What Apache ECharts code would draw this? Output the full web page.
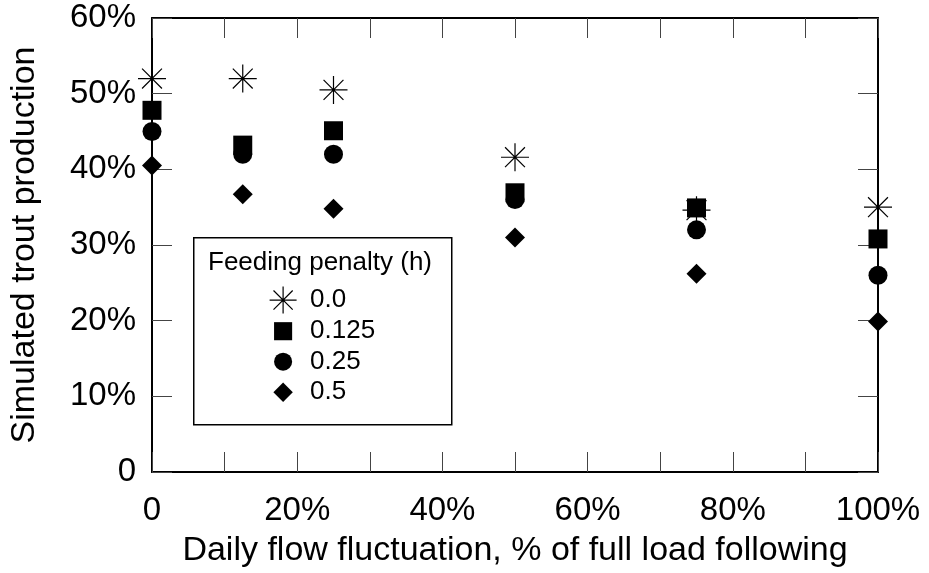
<!DOCTYPE html>
<html><head><meta charset="utf-8">
<script src="https://cdn.jsdelivr.net/npm/echarts@6/dist/echarts.min.js"></script>
<style>html,body{margin:0;padding:0;background:#fff}#c{width:929px;height:573px}</style>
</head><body><div id="c"></div>
<script>
// ---- data ----
const xValues = [0, 12.5, 25, 50, 75, 100];
const penalty000 = [52.0, 52.0, 50.5, 41.6, 34.6, 35.0];
const penalty125 = [47.8, 43.2, 45.1, 36.9, 34.9, 30.8];
const penalty250 = [45.0, 42.0, 42.0, 36.0, 32.0, 26.0];
const penalty500 = [40.5, 36.7, 34.8, 31.0, 26.2, 19.9];
const seriesNames = ['0.0', '0.125', '0.25', '0.5'];
const xTickValues = [0, 20, 40, 60, 80, 100];
const xTickLabels = ['0', '20%', '40%', '60%', '80%', '100%'];
const yTickValues = [0, 10, 20, 30, 40, 50, 60];
const yTickLabels = ['0', '10%', '20%', '30%', '40%', '50%', '60%'];
const legendTitle = 'Feeding penalty (h)';
const xTitle = 'Daily flow fluctuation, % of full load following';
const yTitle = 'Simulated trout production';

const FONT = "'Liberation Sans', Arial, Helvetica, sans-serif";
const pair = (ys) => xValues.map((x, i) => [x, ys[i]]);

const starPath = 'path://M0,-1L0,1M-1,0L1,0M-0.71,-0.71L0.71,0.71M-0.71,0.71L0.71,-0.71';
const legSquare = 'path://M-1,-1M1,1M-0.67,-0.67L0.67,-0.67L0.67,0.67L-0.67,0.67Z';
const legCircle = 'path://M-1,-1M1,1M0.67,0A0.67,0.67,0,1,1,-0.67,0A0.67,0.67,0,1,1,0.67,0Z';
const legDiamond = 'path://M-1,-1M1,1M0,-0.72L0.72,0L0,0.72L-0.72,0Z';

const starStyle = { color: 'rgba(0,0,0,0)', borderColor: '#000', borderWidth: 1.2, opacity: 1 };
const solidStyle = { color: '#000', borderWidth: 0, opacity: 1 };

const tickStyle = { inside: true, length: 20, lineStyle: { color: '#444', width: 1 } };
const lineStyle = { show: true, onZero: false, lineStyle: { color: '#000', width: 2 } };

const chart = echarts.init(document.getElementById('c'), null, { renderer: 'canvas' });
chart.setOption({
  animation: false,
  backgroundColor: '#fff',
  textStyle: { fontFamily: FONT },
  grid: { left: 151, right: 51, top: 18, bottom: 101, containLabel: false },
  title: {
    text: legendTitle, left: 208, top: 250, padding: 0,
    textStyle: { fontFamily: FONT, fontSize: 26, fontWeight: 'normal', color: '#000' }
  },
  graphic: [{
    type: 'rect', left: 193, top: 237, z: 1,
    shape: { width: 258, height: 187 },
    style: { fill: '#fff', stroke: '#000', lineWidth: 1.5 }
  }],
  legend: {
    orient: 'vertical', left: 269, top: 286, z: 10,
    itemWidth: 44, itemHeight: 27, itemGap: 3.5, padding: 0,
    textStyle: { fontFamily: FONT, fontSize: 26, color: '#000' },
    data: [
      { name: seriesNames[0], icon: starPath, itemStyle: starStyle },
      { name: seriesNames[1], icon: legSquare, itemStyle: solidStyle },
      { name: seriesNames[2], icon: legCircle, itemStyle: solidStyle },
      { name: seriesNames[3], icon: legDiamond, itemStyle: solidStyle }
    ]
  },
  xAxis: [{
    type: 'value', position: 'bottom', min: 0, max: 100, interval: 10,
    axisLine: lineStyle, axisTick: tickStyle, splitLine: { show: false },
    axisLabel: {
      margin: 22, fontSize: 33, color: '#000', fontFamily: FONT,
      formatter: (v) => { const i = xTickValues.indexOf(v); return i >= 0 ? xTickLabels[i] : ''; }
    },
    name: xTitle, nameLocation: 'middle', nameGap: 62,
    nameTextStyle: { fontSize: 34, color: '#000', fontFamily: FONT }
  }, {
    type: 'value', position: 'top', min: 0, max: 100, interval: 10,
    axisLine: lineStyle, axisTick: tickStyle, splitLine: { show: false },
    axisLabel: { show: false }
  }],
  yAxis: [{
    type: 'value', position: 'left', min: 0, max: 60, interval: 10,
    axisLine: lineStyle, axisTick: tickStyle, splitLine: { show: false },
    axisLabel: {
      margin: 16, fontSize: 33, color: '#000', fontFamily: FONT,
      formatter: (v) => { const i = yTickValues.indexOf(v); return i >= 0 ? yTickLabels[i] : ''; }
    },
    name: yTitle, nameLocation: 'middle', nameGap: 110,
    nameTextStyle: { fontSize: 34, color: '#000', fontFamily: FONT }
  }, {
    type: 'value', position: 'right', min: 0, max: 60, interval: 10,
    axisLine: lineStyle, axisTick: tickStyle, splitLine: { show: false },
    axisLabel: { show: false }
  }],
  series: [
    { name: seriesNames[1], type: 'scatter', data: pair(penalty125), symbol: 'rect', symbolSize: 19, itemStyle: solidStyle, z: 3, clip: false },
    { name: seriesNames[2], type: 'scatter', data: pair(penalty250), symbol: 'circle', symbolSize: 19, itemStyle: solidStyle, z: 3, clip: false },
    { name: seriesNames[3], type: 'scatter', data: pair(penalty500), symbol: 'diamond', symbolSize: 20, itemStyle: solidStyle, z: 3, clip: false },
    { name: seriesNames[0], type: 'scatter', data: pair(penalty000), symbol: starPath, symbolSize: 28, itemStyle: starStyle, z: 4, clip: false }
  ]
});
</script></body></html>
